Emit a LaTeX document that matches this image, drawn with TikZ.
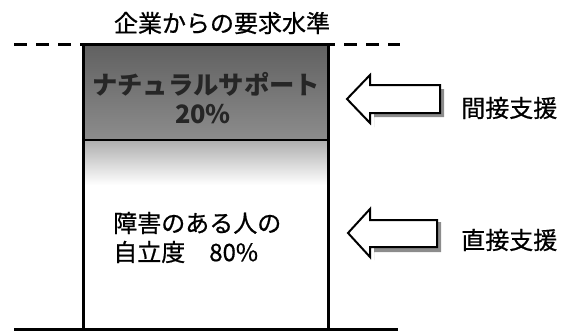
\documentclass[tikz,border=0pt]{standalone}
\usepackage{fontspec}
\newfontfamily\jp[FakeBold=0.7]{Noto Sans CJK JP}
\newfontfamily\jpb{Noto Sans CJK JP}
\begin{document}
\begin{tikzpicture}[x=0.75pt,y=-0.75pt,
  lbl/.style={font=\jp\fontsize{18}{21}\selectfont, inner sep=0pt, anchor=center},
  boldlbl/.style={font=\jpb\bfseries\fontsize{19}{21}\selectfont, inner sep=0pt, text=black!85},
  thickline/.style={line width=2.25pt},
  bigarrow/.style={draw=black, line width=1.5pt, fill=white, line join=miter},
  shadowfill/.style={fill=black!45}]
\useasboundingbox (0,0) rectangle (570,332);
% fills
\fill[top color=black!62, bottom color=black!45] (83,45) rectangle (328,140);
\fill[top color=black!32, bottom color=white] (83,140) rectangle (328,185);
\draw[line width=1.5pt] (83,140) -- (328,140);
% dashed level line
\draw[thickline, dash pattern=on 10pt off 6.5pt] (14,44) -- (400,44);
\draw[thickline] (83,44) -- (328,44);
% box sides and base
\draw[thickline] (83,44) -- (83,329);
\draw[thickline] (328,44) -- (328,329);
\draw[thickline] (14,329) -- (398,329);
% texts
\node[lbl] (title) at (222,23) {企業からの要求水準};
\node[boldlbl] (ns) at (206,84) {ナチュラルサポート};
\node[boldlbl] (ns2) at (203,114) {20\%};
\node[lbl, anchor=west] (ji1) at (113,223) {障害のある人の};
\node[lbl, anchor=west] (ji2) at (113,252) {自立度\quad 80\%};
\node[lbl, anchor=west] (kan) at (461,108) {間接支援};
\node[lbl, anchor=west] (choku) at (461,240) {直接支援};
% arrow 1 (indirect support)
\fill[shadowfill] (374,89) -- (444,89) -- (444,117) -- (374,117) -- (374,127) -- cycle;
\draw[bigarrow] (347,99) -- (370,75) -- (370,85) -- (440,85) -- (440,113) -- (370,113) -- (370,123) -- cycle;
% arrow 2 (direct support)
\fill[shadowfill] (374,222) -- (441,222) -- (441,252) -- (374,252) -- (374,260) -- cycle;
\draw[bigarrow] (348,233) -- (370,209) -- (370,220) -- (437,220) -- (437,247) -- (370,247) -- (370,257) -- cycle;
\end{tikzpicture}
\end{document}
